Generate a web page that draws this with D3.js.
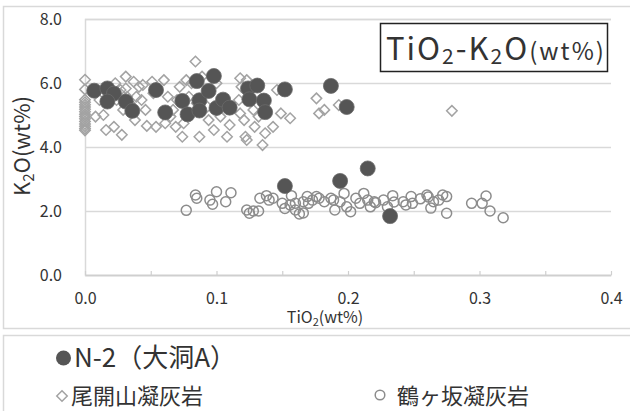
<!DOCTYPE html>
<html>
<head>
<meta charset="utf-8">
<script src="https://cdn.jsdelivr.net/npm/d3@7"></script>
<style>
  body { margin: 0; background: #fff; }
  svg { display: block; }
  text { font-family: "Noto Sans CJK JP", "Noto Sans", sans-serif; fill: #333; }
</style>
</head>
<body>
<svg id="chart" width="630" height="411"></svg>
<script>
// Axis ticks
const xTicks = [0, 0.1, 0.2, 0.3, 0.4];
const xMinorTicks = [0, 0.05, 0.1, 0.15, 0.2, 0.25, 0.3, 0.35, 0.4];
const yTicks = [0, 2, 4, 6, 8];

// N-2 (大洞A) glass shards: [TiO2, K2O] wt%
const n2Points = [
  [0.007, 5.76], [0.017, 5.83], [0.022, 5.67], [0.017, 5.42], [0.031, 5.42],
  [0.036, 5.13], [0.054, 5.78], [0.061, 5.08], [0.074, 5.44], [0.078, 5.02],
  [0.085, 6.06], [0.087, 5.46], [0.087, 5.14], [0.094, 5.75], [0.098, 6.22],
  [0.100, 5.22], [0.105, 5.48], [0.110, 5.23], [0.124, 5.83], [0.125, 5.49],
  [0.131, 5.92], [0.136, 5.45], [0.137, 5.09], [0.152, 5.80], [0.187, 5.91],
  [0.199, 5.25], [0.152, 2.78], [0.194, 2.94], [0.215, 3.33], [0.232, 1.84]
];

// 尾開山凝灰岩
const obirakiyamaPoints = [
  [0.000, 6.10], [0.000, 5.80], [0.000, 5.48], [0.000, 5.40], [0.000, 5.32],
  [0.000, 5.25], [0.000, 5.18], [0.000, 5.10], [0.000, 5.02], [0.000, 4.95],
  [0.000, 4.88], [0.000, 4.80], [0.000, 4.72], [0.000, 4.65], [0.000, 4.58],
  [0.000, 4.52],
  [0.008, 4.95], [0.011, 5.47], [0.014, 5.00], [0.016, 4.53], [0.022, 4.63],
  [0.023, 5.99], [0.024, 5.47], [0.027, 5.78], [0.029, 5.16], [0.028, 4.38],
  [0.031, 6.20], [0.031, 5.83], [0.032, 5.57], [0.034, 5.37], [0.037, 6.04],
  [0.038, 4.84], [0.039, 5.57], [0.041, 5.88], [0.043, 5.47], [0.044, 5.94],
  [0.046, 5.16], [0.047, 4.66], [0.051, 6.04], [0.052, 5.68], [0.054, 4.63],
  [0.060, 6.09], [0.061, 4.74], [0.063, 5.57], [0.065, 4.95], [0.067, 5.16],
  [0.069, 4.63], [0.070, 5.47], [0.072, 5.88], [0.074, 4.32], [0.075, 4.74],
  [0.077, 6.09], [0.079, 5.57], [0.081, 5.99], [0.084, 6.67], [0.085, 5.37],
  [0.087, 4.32], [0.089, 6.20], [0.093, 5.26], [0.094, 4.84], [0.098, 4.53],
  [0.100, 5.99], [0.103, 4.95], [0.104, 5.37], [0.108, 4.32], [0.110, 4.69],
  [0.117, 5.47], [0.118, 6.15], [0.118, 5.05], [0.119, 5.88], [0.121, 4.84],
  [0.122, 4.32], [0.123, 4.22], [0.123, 6.09], [0.128, 5.16], [0.129, 4.63],
  [0.132, 4.95], [0.135, 4.06], [0.137, 4.43], [0.143, 4.63], [0.146, 5.78],
  [0.149, 5.05], [0.156, 4.90], [0.176, 5.52], [0.178, 5.05], [0.182, 5.16],
  [0.193, 5.31], [0.279, 5.13]
];

// 鶴ヶ坂凝灰岩
const tsurugasakaPoints = [
  [0.077, 2.02], [0.084, 2.50], [0.085, 2.40], [0.095, 2.34], [0.097, 2.21],
  [0.100, 2.60], [0.107, 2.29], [0.111, 2.57], [0.123, 2.03], [0.125, 1.93],
  [0.128, 2.00], [0.132, 2.00], [0.133, 2.40], [0.138, 2.48], [0.140, 2.34],
  [0.143, 2.40], [0.150, 2.24], [0.152, 2.08], [0.157, 2.48], [0.156, 2.19],
  [0.160, 2.24], [0.160, 2.03], [0.163, 1.91], [0.166, 2.29], [0.166, 1.94],
  [0.169, 2.45], [0.170, 2.24], [0.173, 2.34], [0.176, 2.45], [0.178, 2.40],
  [0.182, 2.29], [0.187, 2.40], [0.189, 2.34], [0.190, 2.03], [0.194, 2.29],
  [0.197, 2.55], [0.199, 2.13], [0.202, 1.98], [0.206, 2.40], [0.209, 2.24],
  [0.212, 2.55], [0.215, 2.34], [0.217, 2.13], [0.220, 2.29], [0.221, 2.26],
  [0.227, 2.34], [0.230, 2.13], [0.234, 2.48], [0.235, 2.28], [0.242, 2.29],
  [0.244, 2.19], [0.248, 2.45], [0.249, 2.24], [0.255, 2.38], [0.260, 2.50],
  [0.261, 2.44], [0.263, 2.09], [0.265, 2.29], [0.269, 2.34], [0.272, 2.50],
  [0.275, 2.45], [0.275, 1.93], [0.294, 2.24], [0.302, 2.24], [0.305, 2.47],
  [0.308, 2.00], [0.318, 1.79]
];

const legendLabels = ["N-2（大洞A）", "尾開山凝灰岩", "鶴ヶ坂凝灰岩"];

const svg = d3.select("#chart");
const plot = { left: 85, right: 611, top: 19, bottom: 275 };

const x = d3.scaleLinear().domain([0, 0.4]).range([plot.left, plot.right]);
const y = d3.scaleLinear().domain([0, 8]).range([plot.bottom, plot.top]);

const gridColor = "#d9d9d9";
const diamondColor = "#a3a3a3";
const circleColor = "#8c8c8c";
const darkColor = "#555555";

// Outer chart frame and legend frame
svg.append("rect")
  .attr("x", 3.5).attr("y", 6.5).attr("width", 630).attr("height", 322)
  .attr("fill", "none").attr("stroke", gridColor).attr("stroke-width", 1.5);
svg.append("rect")
  .attr("x", 3.5).attr("y", 335.5).attr("width", 630).attr("height", 90)
  .attr("fill", "none").attr("stroke", gridColor).attr("stroke-width", 1.5);

// Y axis with horizontal gridlines
const yAxis = svg.append("g")
  .attr("transform", `translate(${plot.left},0)`)
  .call(d3.axisLeft(y)
    .tickValues(yTicks)
    .tickSize(-(plot.right - plot.left))
    .tickPadding(23)
    .tickFormat(d3.format(".1f")));
yAxis.select(".domain").attr("stroke", gridColor).attr("stroke-width", 1.5);
yAxis.selectAll(".tick line").attr("stroke", gridColor).attr("stroke-width", 1.5);
yAxis.selectAll(".tick text")
  .style("font-size", "16px").attr("fill", "#333");

// X axis: short inward ticks every 0.05, labels every 0.1
const xAxis = svg.append("g")
  .attr("transform", `translate(0,${plot.bottom})`)
  .call(d3.axisBottom(x)
    .tickValues(xMinorTicks)
    .tickSizeInner(-4)
    .tickSizeOuter(0)
    .tickPadding(18)
    .tickFormat(d => xTicks.some(t => Math.abs(t - d) < 1e-9) ? d3.format(".1f")(d) : ""));
xAxis.select(".domain").attr("stroke", "#cfcfcf").attr("stroke-width", 1.5);
xAxis.selectAll(".tick line").attr("stroke", "#cfcfcf").attr("stroke-width", 1.2);
xAxis.selectAll(".tick text")
  .style("font-size", "16px").attr("fill", "#333");

// Axis titles
const yTitle = svg.append("text")
  .attr("transform", "translate(30,146) rotate(-90)")
  .attr("text-anchor", "middle")
  .style("font-size", "22px");
yTitle.append("tspan").text("K");
yTitle.append("tspan").text("2").style("font-size", "15px").attr("dy", 4);
yTitle.append("tspan").text("O(wt%)").attr("dy", -4);

const xTitle = svg.append("text")
  .attr("x", 325).attr("y", 323)
  .attr("text-anchor", "middle")
  .style("font-size", "16px");
xTitle.append("tspan").text("TiO");
xTitle.append("tspan").text("2").style("font-size", "11px").attr("dy", 3);
xTitle.append("tspan").text("(wt%)").attr("dy", -3);

// Marker layers
const diamondPath = d3.symbol().type(d3.symbolDiamond2).size(70);

svg.append("g").selectAll("path")
  .data(obirakiyamaPoints)
  .join("path")
  .attr("d", diamondPath)
  .attr("transform", d => `translate(${x(d[0])},${y(d[1])})`)
  .attr("fill", "none")
  .attr("stroke", diamondColor)
  .attr("stroke-width", 1.5);

svg.append("g").selectAll("circle")
  .data(tsurugasakaPoints)
  .join("circle")
  .attr("cx", d => x(d[0]))
  .attr("cy", d => y(d[1]))
  .attr("r", 5)
  .attr("fill", "none")
  .attr("stroke", circleColor)
  .attr("stroke-width", 1.5);

svg.append("g").selectAll("circle")
  .data(n2Points)
  .join("circle")
  .attr("cx", d => x(d[0]))
  .attr("cy", d => y(d[1]))
  .attr("r", 7.5)
  .attr("fill", darkColor)
  .attr("stroke", "#6a6a6a")
  .attr("stroke-width", 0.8);

// Title box
svg.append("rect")
  .attr("x", 380.5).attr("y", 23.5).attr("width", 227).attr("height", 48)
  .attr("fill", "#fff").attr("stroke", "#222").attr("stroke-width", 1.5);
const title = svg.append("text")
  .attr("x", 386).attr("y", 60)
  .style("font-size", "31px").style("letter-spacing", "2px").attr("fill", "#222");
title.append("tspan").text("TiO");
title.append("tspan").text("2").style("font-size", "21px").attr("dy", 4);
title.append("tspan").text("-K").attr("dy", -4);
title.append("tspan").text("2").style("font-size", "21px").attr("dy", 4);
title.append("tspan").text("O").attr("dy", -4);
title.append("tspan").text("(wt%)").style("font-size", "24px");

// Legend
const legend = svg.append("g");
legend.append("circle")
  .attr("cx", 63.5).attr("cy", 358).attr("r", 7.5)
  .attr("fill", darkColor);
legend.append("text")
  .attr("x", 74).attr("y", 367)
  .style("font-size", "26px")
  .text(legendLabels[0]);

legend.append("path")
  .attr("d", diamondPath)
  .attr("transform", "translate(62,396)")
  .attr("fill", "none").attr("stroke", diamondColor).attr("stroke-width", 1.5);
legend.append("text")
  .attr("x", 71).attr("y", 404)
  .style("font-size", "22px")
  .text(legendLabels[1]);

legend.append("circle")
  .attr("cx", 380).attr("cy", 395).attr("r", 4.8)
  .attr("fill", "none").attr("stroke", circleColor).attr("stroke-width", 1.5);
legend.append("text")
  .attr("x", 397).attr("y", 404)
  .style("font-size", "22px")
  .text(legendLabels[2]);
</script>
</body>
</html>
